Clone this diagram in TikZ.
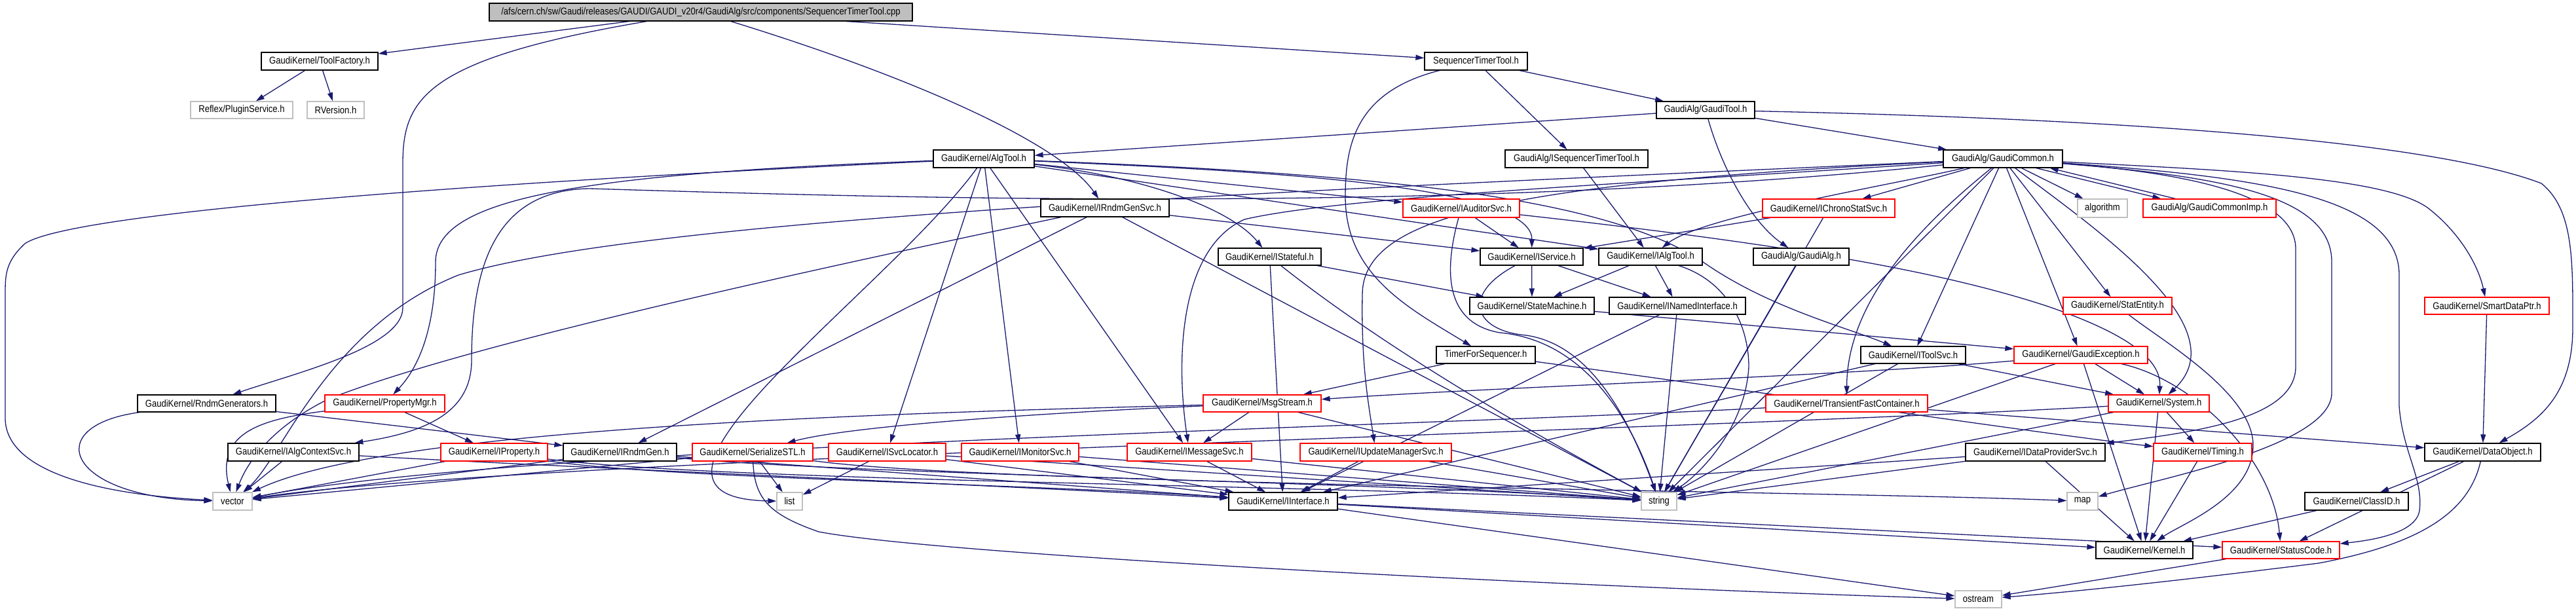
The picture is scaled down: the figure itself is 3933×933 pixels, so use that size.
\documentclass[tikz,border=0pt]{standalone}
\usepackage{fontspec}
\setmainfont{Liberation Sans}[FakeStretch=0.87]
\usetikzlibrary{arrows.meta,backgrounds}
\definecolor{edgecol}{RGB}{25,25,112}
\definecolor{grayb}{RGB}{191,191,191}
\tikzset{
  nb/.style={draw=black,line width=1.2pt,fill=white},
  nr/.style={draw=red,line width=1.2pt,fill=white},
  ng/.style={draw=grayb,line width=1.2pt,fill=white},
  nroot/.style={draw=black,line width=1.2pt,fill=grayb},
  e/.style={draw=edgecol,line width=1.3pt,-{Triangle[length=13pt,width=8pt]}},
}
\newcommand{\nd}[7]{\node[#6,inner sep=0pt,minimum width={(#4-#2)*1pt},minimum height={(#5-#3)*1pt},font=\fontsize{15}{18}\selectfont] (#1) at ({(#2+#4)/2},{(#3+#5)/2}) {#7};}
\begin{document}
\begin{tikzpicture}[x=1pt,y=-1pt]
\useasboundingbox (0,0) rectangle (3933,933);
\nd{root}{747}{5}{1393}{32}{nroot}{/afs/cern.ch/sw/Gaudi/releases/GAUDI/GAUDI\_v20r4/GaudiAlg/src/components/SequencerTimerTool.cpp}
\nd{toolfactory}{399}{80}{577}{107}{nb}{GaudiKernel/ToolFactory.h}
\nd{pluginservice}{291}{155}{447}{181}{ng}{Reflex/PluginService.h}
\nd{rversion}{469}{155}{556}{181}{ng}{RVersion.h}
\nd{seqtimertool}{2175}{80}{2332}{107}{nb}{SequencerTimerTool.h}
\nd{gauditool}{2529}{155}{2679}{181}{nb}{GaudiAlg/GaudiTool.h}
\nd{iseqtimertool}{2298}{229}{2516}{256}{nb}{GaudiAlg/ISequencerTimerTool.h}
\nd{algtool}{1425}{229}{1579}{256}{nb}{GaudiKernel/AlgTool.h}
\nd{gaudicommon}{2967}{229}{3149}{256}{nb}{GaudiAlg/GaudiCommon.h}
\nd{algorithm}{3172}{304}{3248}{332}{ng}{algorithm}
\nd{gaudicommonimp}{3272}{304}{3475}{332}{nr}{GaudiAlg/GaudiCommonImp.h}
\nd{irndmgensvc}{1589}{304}{1785}{331}{nb}{GaudiKernel/IRndmGenSvc.h}
\nd{iauditorsvc}{2142}{304}{2320}{332}{nr}{GaudiKernel/IAuditorSvc.h}
\nd{ichronostatsvc}{2691}{304}{2893}{332}{nr}{GaudiKernel/IChronoStatSvc.h}
\nd{istateful}{1860}{379}{2017}{405}{nb}{GaudiKernel/IStateful.h}
\nd{iservice}{2260}{379}{2417}{405}{nb}{GaudiKernel/IService.h}
\nd{ialgtool}{2441}{379}{2599}{405}{nb}{GaudiKernel/IAlgTool.h}
\nd{gaudialg}{2677}{379}{2823}{405}{nb}{GaudiAlg/GaudiAlg.h}
\nd{statemachine}{2244}{454}{2434}{480}{nb}{GaudiKernel/StateMachine.h}
\nd{inamedinterface}{2457}{454}{2665}{480}{nb}{GaudiKernel/INamedInterface.h}
\nd{statentity}{3150}{454}{3316}{480}{nr}{GaudiKernel/StatEntity.h}
\nd{smartdataptr}{3702}{454}{3892}{480}{nr}{GaudiKernel/SmartDataPtr.h}
\nd{timerforseq}{2193}{529}{2344}{555}{nb}{TimerForSequencer.h}
\nd{itoolsvc}{2841}{529}{3001}{555}{nb}{GaudiKernel/IToolSvc.h}
\nd{gaudiexception}{3075}{529}{3279}{555}{nr}{GaudiKernel/GaudiException.h}
\nd{rndmgenerators}{210}{603}{421}{629}{nb}{GaudiKernel/RndmGenerators.h}
\nd{propertymgr}{496}{603}{679}{629}{nr}{GaudiKernel/PropertyMgr.h}
\nd{msgstream}{1837}{603}{2017}{629}{nr}{GaudiKernel/MsgStream.h}
\nd{tfc}{2696}{603}{2943}{629}{nr}{GaudiKernel/TransientFastContainer.h}
\nd{system}{3219}{603}{3373}{629}{nr}{GaudiKernel/System.h}
\nd{ialgcontextsvc}{348}{677}{548}{704}{nb}{GaudiKernel/IAlgContextSvc.h}
\nd{iproperty}{673}{677}{836}{704}{nr}{GaudiKernel/IProperty.h}
\nd{irndmgen}{860}{677}{1033}{704}{nb}{GaudiKernel/IRndmGen.h}
\nd{serializestl}{1057}{677}{1241}{704}{nr}{GaudiKernel/SerializeSTL.h}
\nd{isvclocator}{1265}{677}{1444}{704}{nr}{GaudiKernel/ISvcLocator.h}
\nd{imonitorsvc}{1468}{677}{1647}{704}{nr}{GaudiKernel/IMonitorSvc.h}
\nd{imessagesvc}{1721}{677}{1911}{704}{nr}{GaudiKernel/IMessageSvc.h}
\nd{iupdatemanagersvc}{1985}{677}{2216}{704}{nr}{GaudiKernel/IUpdateManagerSvc.h}
\nd{idataprovidersvc}{3001}{677}{3214}{704}{nb}{GaudiKernel/IDataProviderSvc.h}
\nd{timing}{3288}{677}{3438}{704}{nr}{GaudiKernel/Timing.h}
\nd{dataobject}{3702}{677}{3879}{704}{nb}{GaudiKernel/DataObject.h}
\nd{vector}{325}{752}{385}{779}{ng}{vector}
\nd{list}{1186}{752}{1225}{779}{ng}{list}
\nd{iinterface}{1876}{752}{2042}{779}{nb}{GaudiKernel/IInterface.h}
\nd{string}{2506}{752}{2560}{779}{ng}{string}
\nd{map}{3156}{752}{3203}{779}{ng}{map}
\nd{classid}{3519}{752}{3677}{779}{nb}{GaudiKernel/ClassID.h}
\nd{kernel}{3200}{827}{3348}{853}{nb}{GaudiKernel/Kernel.h}
\nd{statuscode}{3393}{827}{3572}{853}{nr}{GaudiKernel/StatusCode.h}
\nd{ostream}{2985}{902}{3056}{928}{ng}{ostream}
\begin{scope}[on background layer]
% root
\draw[e] (root) -- (toolfactory);
\draw[e] (root) .. controls (650,90) and (615,150) .. (615,250) -- (615,470) .. controls (615,530) and (450,570) .. (rndmgenerators);
\draw[e] (root) .. controls (1400,120) and (1620,220) .. (irndmgensvc);
\draw[e] (root) -- (seqtimertool);
\draw[e] (toolfactory) -- (pluginservice);
\draw[e] (toolfactory) -- (rversion);
\draw[e] (seqtimertool) -- (gauditool);
\draw[e] (seqtimertool) -- (iseqtimertool);
\draw[e] (seqtimertool) .. controls (2070,140) and (2054,220) .. (2054,300) .. controls (2054,420) and (2150,470) .. (timerforseq);
\draw[e] (gauditool) -- (algtool);
\draw[e] (gauditool) -- (gaudicommon);
\draw[e] (gauditool) .. controls (2630,260) and (2675,340) .. (gaudialg);
\draw[e] (gauditool) .. controls (3400,185) and (3750,230) .. (3880,280) .. controls (3930,320) and (3928,400) .. (3928,500) .. controls (3928,600) and (3880,640) .. (dataobject);
\draw[e] (iseqtimertool) -- (ialgtool);
% AlgTool
\draw[e] (algtool) -- (ialgtool);
\draw[e] (algtool) .. controls (1900,260) and (2340,280) .. (iservice);
\draw[e] (algtool) -- (iauditorsvc);
\draw[e] (algtool) .. controls (2100,265) and (2450,300) .. (2600,400) .. controls (2700,470) and (2820,500) .. (itoolsvc);
\draw[e] (algtool) .. controls (1750,270) and (1880,320) .. (istateful);
\draw[e] (algtool) -- (isvclocator);
\draw[e] (algtool) -- (imonitorsvc);
\draw[e] (algtool) -- (imessagesvc);
\draw[e] (algtool) .. controls (900,265) and (665,300) .. (665,400) .. controls (665,500) and (640,560) .. (propertymgr);
\draw[e] (algtool) .. controls (600,285) and (100,330) .. (38,372) .. controls (8,400) and (8,420) .. (8,450) -- (8,640) .. controls (10,720) and (150,755) .. (vector);
\draw[e] (algtool) .. controls (1350,450) and (900,760) .. (list);
% GaudiCommon
\draw[e] ([xshift=-41pt]gaudicommon.south east) -- ([xshift=28pt]gaudicommonimp.north west);
\draw[e] ([xshift=50pt]gaudicommonimp.north west) -- ([xshift=-20pt]gaudicommon.south east);
\draw[e] (gaudicommon) -- (algorithm);
\draw[e] (gaudicommon) .. controls (2900,280) and (2600,330) .. (ialgtool);
\draw[e] (gaudicommon) -- (ichronostatsvc);
\draw[e] (gaudicommon) -- (gaudiexception);
\draw[e] (gaudicommon) -- (statentity);
\draw[e] (gaudicommon) .. controls (3400,260) and (3650,270) .. (3710,320) .. controls (3760,360) and (3785,410) .. (smartdataptr);
\draw[e] (gaudicommon) .. controls (3350,265) and (3505,300) .. (3505,380) -- (3505,560) .. controls (3505,640) and (3350,660) .. (idataprovidersvc);
\draw[e] (gaudicommon) .. controls (3400,270) and (3560,300) .. (3560,400) -- (3560,600) .. controls (3560,680) and (3300,730) .. (map);
\draw[e] (gaudicommon) .. controls (3450,270) and (3663,300) .. (3663,420) -- (3663,620) .. controls (3668,690) and (3700,730) .. (3694,780) .. controls (3688,815) and (3620,825) .. (statuscode);
\draw[e] (gaudicommon) .. controls (3200,350) and (3420,500) .. (system);
\draw[e] (gaudicommon) -- (itoolsvc);
\draw[e] (gaudicommon) .. controls (2300,280) and (2080,330) .. (2080,450) .. controls (2078,560) and (2090,620) .. (iupdatemanagersvc);
\draw[e] (gaudicommon) .. controls (2950,330) and (2820,450) .. (tfc);
\draw[e] (gaudicommon) .. controls (2500,280) and (2050,300) .. (1900,335) .. controls (1800,380) and (1795,550) .. (imessagesvc);
\draw[e] (gaudicommon) .. controls (2200,330) and (1300,300) .. (900,288) .. controls (760,290) and (720,400) .. (720,550) .. controls (720,630) and (650,660) .. (ialgcontextsvc);
\draw[e] (gaudicommon) .. controls (2000,290) and (1000,330) .. (700,420) .. controls (500,500) and (430,700) .. (vector);
\draw[e] (gaudicommon) -- (string);
% IRndmGenSvc
\draw[e] (irndmgensvc) -- (iservice);
\draw[e] (irndmgensvc) -- (irndmgen);
\draw[e] (irndmgensvc) .. controls (1200,420) and (700,530) .. (500,610) .. controls (420,650) and (380,700) .. (vector);
\draw[e] (irndmgensvc) -- (string);
% RndmGenerators, PropertyMgr
\draw[e] (rndmgenerators) -- (irndmgen);
\draw[e] (rndmgenerators) .. controls (60,650) and (100,760) .. (vector);
\draw[e] (propertymgr) -- (iproperty);
\draw[e] (propertymgr) .. controls (400,640) and (330,660) .. (vector);
% row 9
\draw[e] (ialgcontextsvc) -- (vector);
\draw[e] (ialgcontextsvc) .. controls (900,715) and (1500,740) .. (iinterface);
\draw[e] (iproperty) -- (vector);
\draw[e] (iproperty) .. controls (1000,730) and (1600,740) .. (iinterface);
\draw[e] (iproperty) .. controls (1100,735) and (2000,740) .. (string);
\draw[e] (irndmgen) -- (iinterface);
\draw[e] (irndmgen) -- (vector);
\draw[e] (irndmgen) .. controls (1300,725) and (2100,735) .. (string);
\draw[e] (serializestl) -- (vector);
\draw[e] (serializestl) -- (list);
\draw[e] (serializestl) .. controls (1152,760) and (1172,785) .. (1250,812) .. controls (1450,850) and (2500,900) .. (ostream);
\draw[e] (serializestl) .. controls (1500,740) and (2800,750) .. (map);
\draw[e] (isvclocator) -- (list);
\draw[e] (isvclocator) -- (iinterface);
\draw[e] (isvclocator) -- (string);
\draw[e] (imonitorsvc) -- (iinterface);
\draw[e] (imonitorsvc) -- (string);
\draw[e] (imessagesvc) -- (iinterface);
\draw[e] (imessagesvc) -- (string);
\draw[e] (iupdatemanagersvc) -- (iinterface);
\draw[e] (iupdatemanagersvc) -- (string);
% MsgStream, Timer
\draw[e] (msgstream) -- (imessagesvc);
\draw[e] (msgstream) .. controls (1600,630) and (1300,650) .. (serializestl);
\draw[e] (msgstream) .. controls (1400,630) and (600,650) .. (vector);
\draw[e] (msgstream) -- (string);
\draw[e] (timerforseq) -- (msgstream);
\draw[e] (timerforseq) .. controls (2700,600) and (3100,660) .. (timing);
% middle
\draw[e] (istateful) -- (statemachine);
\draw[e] (istateful) -- (iinterface);
\draw[e] (istateful) .. controls (2100,520) and (2300,640) .. (string);
\draw[e] (iservice) -- (statemachine);
\draw[e] (iservice) -- (inamedinterface);
\draw[e] (iservice) .. controls (2230,450) and (2250,505) .. (2330,512) .. controls (2420,525) and (2480,620) .. (string);
\draw[e] (ialgtool) -- (statemachine);
\draw[e] (ialgtool) -- (inamedinterface);
\draw[e] (ialgtool) .. controls (2640,430) and (2670,500) .. (2670,560) .. controls (2665,650) and (2600,720) .. (string);
\draw[e] (inamedinterface) -- (iinterface);
\draw[e] (inamedinterface) -- (string);
\draw[e] (statemachine) -- (gaudiexception);
\draw[e] (gaudialg) -- (string);
\draw[e] (iauditorsvc) -- (iservice);
\draw[e] (iauditorsvc) .. controls (2200,430) and (2215,495) .. (2290,508) .. controls (2420,520) and (2490,640) .. (string);
\draw[e] (iauditorsvc) .. controls (2700,370) and (2950,410) .. (3124,467) .. controls (3250,510) and (3300,550) .. (system);
\draw[e] (ichronostatsvc) -- (iservice);
\draw[e] (ichronostatsvc) -- (string);
\draw[e] (itoolsvc) -- (system);
\draw[e] (itoolsvc) -- (string);
\draw[e] (itoolsvc) -- (iinterface);
\draw[e] (gaudiexception) -- (system);
\draw[e] (gaudiexception) -- (kernel);
\draw[e] (gaudiexception) .. controls (3350,580) and (3470,700) .. (statuscode);
\draw[e] (gaudiexception) .. controls (2800,575) and (2300,590) .. (msgstream);
\draw[e] (gaudiexception) -- (string);
\draw[e] (tfc) -- (dataobject);
\draw[e] (tfc) .. controls (2200,650) and (800,680) .. (vector);
\draw[e] (system) -- (timing);
\draw[e] (system) -- (kernel);
\draw[e] (system) -- (string);
\draw[e] (system) .. controls (2500,660) and (800,700) .. (vector);
\draw[e] (statentity) .. controls (3300,520) and (3440,600) .. (3440,680) .. controls (3440,760) and (3330,800) .. (kernel);
\draw[e] (smartdataptr) -- (dataobject);
% bottom
\draw[e] (timing) -- (kernel);
\draw[e] (idataprovidersvc) -- (kernel);
\draw[e] (idataprovidersvc) -- (iinterface);
\draw[e] (idataprovidersvc) -- (string);
\draw[e] (dataobject) -- (classid);
\draw[e] (dataobject) -- (statuscode);
\draw[e] (dataobject) .. controls (3770,780) and (3700,830) .. (3540,860) .. controls (3300,890) and (3150,905) .. (ostream);
\draw[e] (classid) -- (kernel);
\draw[e] (iinterface) -- (kernel);
\draw[e] (iinterface) -- (statuscode);
\draw[e] (iinterface) -- (ostream);
\draw[e] (statuscode) -- (ostream);
\end{scope}
\end{tikzpicture}
\end{document}
